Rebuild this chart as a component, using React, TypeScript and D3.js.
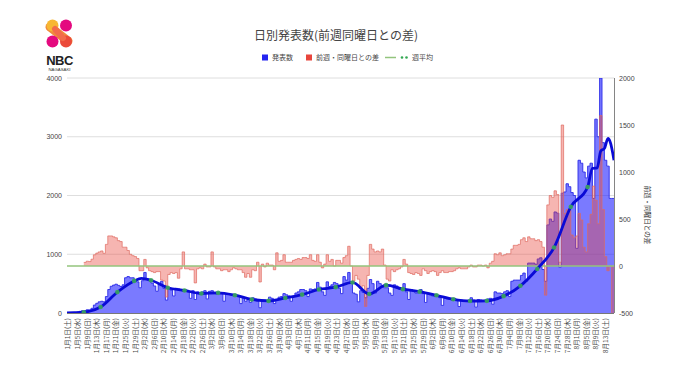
import React from "react";
import * as d3 from "d3";

const START_YEAR = 2022;
const weekdayNames = ["日", "月", "火", "水", "木", "金", "土"];
const leftTicks = [0, 1000, 2000, 3000, 4000];
const rightTicks = [-500, 0, 500, 1000, 1500, 2000];

// 発表数 (daily reported cases), Jan 1 .. Aug 16 (rows = Sat..Fri)
const dailyCases: number[] = [
  2, 4, 3, 8, 16, 28, 40,
  40, 55, 50, 80, 135, 165, 190,
  200, 190, 280, 400, 455, 475, 490,
  470, 450, 480, 600, 620, 600, 600,
  570, 530, 430, 550, 690, 580, 550,
  510, 460, 370, 490, 540, 420, 220,
  420, 390, 290, 420, 410, 390, 370,
  390, 360, 250, 380, 230, 360, 350,
  360, 380, 240, 370, 380, 350, 320,
  330, 330, 200, 330, 320, 310, 300,
  300, 290, 160, 260, 200, 230, 180,
  260, 240, 200, 90, 220, 220, 210,
  270, 250, 160, 230, 270, 280, 330,
  310, 290, 200, 290, 340, 360, 400,
  400, 380, 280, 410, 400, 410, 520,
  440, 360, 300, 530, 450, 480, 520,
  500, 420, 330, 620, 560, 690, 520,
  340, 320, 190, 380, 350, 260, 420,
  570, 500, 340, 540, 500, 440, 430,
  430, 340, 300, 480, 460, 410, 420,
  500, 360, 230, 400, 370, 340, 340,
  400, 330, 180, 320, 310, 290, 280,
  300, 260, 130, 250, 240, 230, 220,
  250, 230, 110, 220, 210, 200, 210,
  260, 220, 100, 230, 220, 200, 220,
  240, 250, 150, 360, 340, 340, 330,
  360, 380, 280, 540, 560, 560, 560,
  640, 680, 540, 850, 850, 850, 830,
  920, 940, 740, 540, 1500, 1600, 1560,
  1720, 1700, 780, 2040, 2060, 2200, 2150,
  2050, 2000, 1100, 2600, 2550, 2400, 2300,
  2500, 2550, 1950, 3300, 3000, 4000, 2900,
  2600, 2500, 1950, 1950,
];

// 前週・同曜日との差 (difference from the same weekday of the previous week)
const weekDiff: (number | null)[] = [
  null, null, null, null, null, null, null,
  38, 51, 47, 72, 119, 137, 150,
  160, 135, 230, 320, 320, 310, 300,
  270, 260, 200, 200, 165, 125, 110,
  100, 80, -50, -50, 70, -20, -50,
  -60, -70, -60, -60, -150, -160, -330,
  -90, -70, -80, -70, -130, -30, 150,
  -30, -30, -40, -40, -180, -30, -20,
  -30, 20, -10, -10, 150, -10, -30,
  -30, -50, -40, -40, -60, -40, -20,
  -30, -40, -40, -70, -120, -80, -120,
  -40, -50, 40, -170, 20, -10, 30,
  10, 10, -40, 140, 50, 60, 120,
  40, 40, 40, 60, 70, 80, 70,
  90, 90, 80, 120, 60, 50, 120,
  40, -20, 20, 120, 50, 70, 0,
  60, 60, 30, 90, 110, 210, 0,
  -160, -100, -140, -240, -210, -430, -100,
  230, 180, 150, 160, 150, 180, 10,
  -140, -160, -40, -60, -40, -30, -10,
  70, 20, -70, -80, -90, -70, -80,
  -100, -30, -50, -80, -60, -50, -60,
  -100, -70, -50, -70, -70, -60, -60,
  -50, -30, -20, -30, -30, -30, -10,
  10, -10, -10, 10, 10, 0, 10,
  -20, 30, 50, 130, 120, 140, 110,
  120, 130, 130, 180, 220, 220, 230,
  280, 300, 260, 310, 290, 290, 270,
  280, 260, 200, -310, 650, 750, 730,
  800, 760, 40, 1500, 560, 600, 590,
  330, 300, 320, 560, 490, 200, 150,
  450, 550, 850, 700, 450, 1600, 600,
  100, -50, 0, -1350,
];

// 週平均: weekly averages, shown as dots at the end of each Sat–Fri week
const weeklyAvg = [
  14, 102, 356, 546, 557, 430, 384, 331, 343, 303, 231, 206, 256, 313, 400, 440,
  520, 323, 474, 406, 363, 301, 233, 204, 207, 287, 463, 749, 1114, 1807, 2143,
];
// extra readings of the average line (day boundary, value)
const avgExtraDays = [0, 3, 31, 219, 221, 222.5, 224, 225.5, 226.5, 228];
const avgExtraValues = [2, 6, 590, 2460, 2470, 2760, 2800, 2970, 2900, 2600];

const PLOT = { left: 67, right: 614, top: 78, bottom: 313 };
const JP = "'Noto Sans CJK JP', 'Noto Sans', sans-serif";
const LAT = "'Liberation Sans', Arial, sans-serif";

function dateLabel(i: number) {
  const d = new Date(START_YEAR, 0, 1 + i);
  return `${d.getMonth() + 1}月${d.getDate()}日(${weekdayNames[d.getDay()]})`;
}

export default function App() {
  const n = dailyCases.length;
  const x = d3.scaleLinear().domain([0, n]).range([PLOT.left, PLOT.right]);
  const yL = d3.scaleLinear().domain([0, 4000]).range([PLOT.bottom, PLOT.top]);
  const yR = d3.scaleLinear().domain([-500, 2000]).range([PLOT.bottom, PLOT.top]);
  const bw = x(1) - x(0);

  const bluePts: [number, number][] = [];
  dailyCases.forEach((v, i) => {
    bluePts.push([x(i), yL(v)], [x(i + 1), yL(v)]);
  });
  const redPts: [number, number][] = [];
  weekDiff.forEach((v, i) => {
    if (v === null) return;
    redPts.push([x(i), yR(v)], [x(i + 1), yR(v)]);
  });

  const blueArea = d3.area<[number, number]>().x((d) => d[0]).y0(yL(0)).y1((d) => d[1]);
  const redArea = d3.area<[number, number]>().x((d) => d[0]).y0(yR(0)).y1((d) => d[1]);
  const stepLine = d3.line<[number, number]>().x((d) => d[0]).y((d) => d[1]);

  const avgPoints: [number, number][] = weeklyAvg.map((v, k) => [(k + 1) * 7, v]);
  avgExtraDays.forEach((d, j) => avgPoints.push([d, avgExtraValues[j]]));
  avgPoints.sort((a, b) => a[0] - b[0]);
  const avgLine = d3
    .line<[number, number]>()
    .x((d) => x(d[0]))
    .y((d) => yL(d[1]))
    .curve(d3.curveMonotoneX);

  const labelIdx = d3.range(0, n, 4);

  return (
    <svg
      width={680}
      height={382}
      style={{ position: "absolute", left: 0, top: 0, background: "#fff" }}
    >
      <defs>
        <clipPath id="plotclip">
          <rect x={PLOT.left} y={PLOT.top} width={PLOT.right - PLOT.left} height={PLOT.bottom - PLOT.top} />
        </clipPath>
      </defs>

      {/* logo */}
      <g>
        <path d="M50,27 L68,41" stroke="#f08a3c" strokeWidth={9} strokeLinecap="round" />
        <circle cx={52.5} cy={25.5} r={6} fill="#f7b733" />
        <circle cx={66} cy={25.5} r={6} fill="#e4097f" />
        <circle cx={52.5} cy={41.5} r={6} fill="#e4097f" />
        <circle cx={66} cy={41.5} r={6} fill="#eb4a3a" />
        <path d="M55,29 Q59,33.5 63,38" stroke="#f26b4a" strokeWidth={6} strokeLinecap="round" fill="none" />
        <text x={59.5} y={65} textAnchor="middle" fontFamily={LAT} fontWeight="bold" fontSize={13} fill="#222" letterSpacing={-0.5}>
          NBC
        </text>
        <text x={59.5} y={71} textAnchor="middle" fontFamily={LAT} fontSize={4.3} fill="#333">
          NAGASAKI
        </text>
      </g>

      {/* title */}
      <text x={336} y={40} textAnchor="middle" fontFamily={JP} fontSize={12} fill="#444">
        日別発表数(前週同曜日との差)
      </text>

      {/* legend */}
      <g fontFamily={JP} fontSize={7} fill="#444">
        <rect x={262} y={54.5} width={6} height={6} fill="#2424f0" />
        <text x={272} y={60.3}>発表数</text>
        <rect x={306} y={54.5} width={6} height={6} fill="#e8453c" />
        <text x={316} y={60.3}>前週・同曜日との差</text>
        <line x1={385} x2={396} y1={57.5} y2={57.5} stroke="#93c47d" strokeWidth={1.5} />
        <circle cx={402} cy={57.5} r={1.3} fill="#34a853" />
        <circle cx={406.5} cy={57.5} r={1.3} fill="#34a853" />
        <text x={412} y={60.3}>週平均</text>
      </g>

      {/* gridlines */}
      {leftTicks.filter((t) => t > 0).map((t) => (
        <line key={t} x1={PLOT.left} x2={PLOT.right} y1={yL(t)} y2={yL(t)} stroke="#dedede" strokeWidth={1} />
      ))}

      <g clipPath="url(#plotclip)">
        <path d={blueArea(bluePts) || ""} fill="#1a1aff" fillOpacity={0.58} />
        <path d={stepLine(bluePts) || ""} fill="none" stroke="#2a2ae8" strokeWidth={0.9} />
        <path d={redArea(redPts) || ""} fill="#e8453c" fillOpacity={0.4} />
        <path d={stepLine(redPts) || ""} fill="none" stroke="#e06a60" strokeWidth={0.7} />
        <line x1={PLOT.left} x2={PLOT.right} y1={yR(0)} y2={yR(0)} stroke="#93c47d" strokeWidth={1.5} />
        <path d={avgLine(avgPoints) || ""} fill="none" stroke="#0a0ad6" strokeWidth={2.8} strokeLinejoin="round" />
        {weeklyAvg.map((v, k) => (
          <circle key={k} cx={x((k + 1) * 7)} cy={yL(v)} r={2.3} fill="#3aa859" fillOpacity={0.9} />
        ))}
      </g>

      {/* baseline and right axis */}
      <line x1={PLOT.left} x2={PLOT.right} y1={PLOT.bottom + 0.5} y2={PLOT.bottom + 0.5} stroke="#555" strokeWidth={0.8} />
      <line x1={PLOT.right + 0.5} x2={PLOT.right + 0.5} y1={PLOT.top} y2={PLOT.bottom} stroke="#666" strokeWidth={0.8} />

      {/* tick labels */}
      <g fontFamily={LAT} fontSize={7} fill="#444">
        {leftTicks.map((t) => (
          <text key={t} x={62} y={yL(t) + 2.5} textAnchor="end">
            {t}
          </text>
        ))}
        {rightTicks.map((t) => (
          <text key={t} x={619} y={yR(t) + 2.5} textAnchor="start">
            {t}
          </text>
        ))}
      </g>

      {/* right axis title */}
      <text
        transform={`translate(645,215) rotate(90)`}
        textAnchor="middle"
        fontFamily={JP}
        fontSize={6.5}
        fill="#333"
      >
        前週・同曜日との差
      </text>

      {/* x labels */}
      <g fontFamily={JP} fontSize={6.6} fill="#4a4a4a">
        {labelIdx.map((i) => (
          <text
            key={i}
            transform={`translate(${x(i) + bw / 2 + 2.3},318) rotate(-90)`}
            textAnchor="end"
          >
            {dateLabel(i)}
          </text>
        ))}
      </g>
    </svg>
  );
}
